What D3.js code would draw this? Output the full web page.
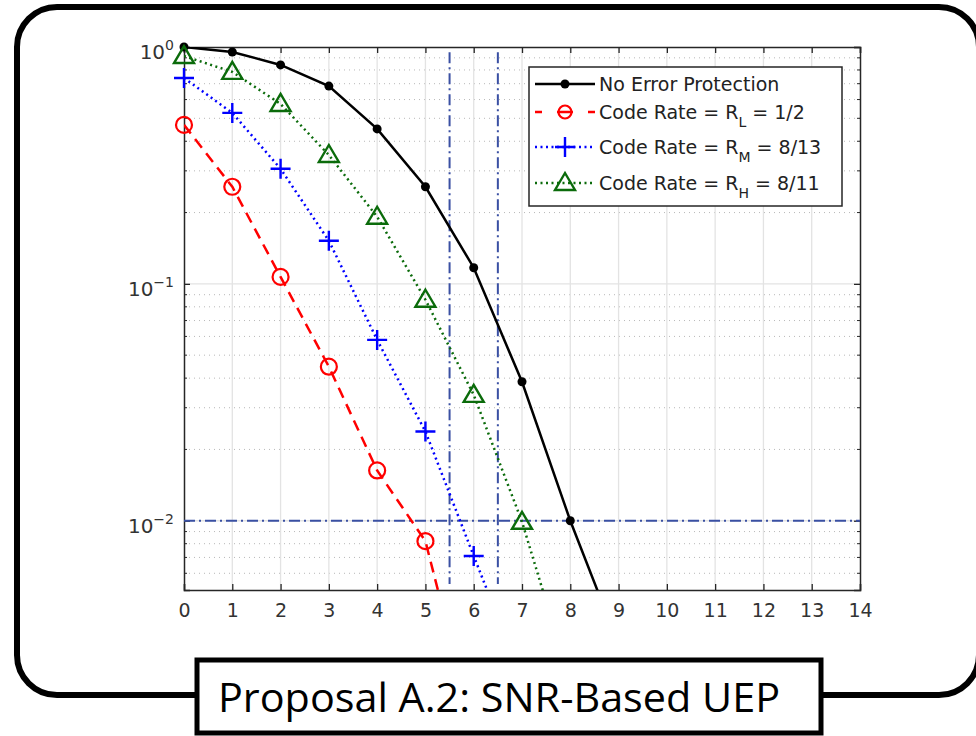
<!DOCTYPE html>
<html>
<head>
<meta charset="utf-8">
<script src="https://cdn.jsdelivr.net/npm/d3@7"></script>
<style>
  html, body { margin: 0; padding: 0; background: #fff; }
  svg { display: block; }
</style>
</head>
<body>
<svg id="chart" width="976" height="736"></svg>
<script>
// data
const snrTicks = [0, 1, 2, 3, 4, 5, 6, 7, 8, 9, 10, 11, 12, 13, 14];
const berTicks = [1, 0.1, 0.01];
const berTickExp = ["0", "\u22121", "\u22122"];

const snrNone = [0, 1, 2, 3, 4, 5, 6, 7, 8, 9];
const berNone = [1.0, 0.953, 0.84, 0.684, 0.451, 0.257, 0.117, 0.0386, 0.01, 0.003];

const snrLow = [0, 1, 2, 3, 4, 5, 6];
const berLow = [0.469, 0.257, 0.107, 0.0447, 0.0163, 0.0082, 0.0013];

const snrMid = [0, 1, 2, 3, 4, 5, 6, 7];
const berMid = [0.74, 0.527, 0.306, 0.152, 0.058, 0.0238, 0.0071, 0.00215];

const snrHigh = [0, 1, 2, 3, 4, 5, 6, 7, 8];
const berHigh = [0.916, 0.785, 0.575, 0.35, 0.192, 0.0857, 0.034, 0.0099, 0.0021];

const refSnr = [5.5, 6.5];
const refBer = 0.01;
const refBerSpan = [0.95, 0.0054];

const legendNames = [
    ["No Error Protection", "", ""],
    ["Code Rate = R", "L", " = 1/2"],
    ["Code Rate = R", "M", " = 8/13"],
    ["Code Rate = R", "H", " = 8/11"]
];

const titleText = "Proposal A.2: SNR-Based UEP";

const svg = d3.select("#chart");
const font = "'DejaVu Sans', sans-serif";

// outer rounded frame
svg.append("rect")
    .attr("x", 17).attr("y", 7)
    .attr("width", 962).attr("height", 688)
    .attr("rx", 40).attr("ry", 40)
    .attr("fill", "none")
    .attr("stroke", "#000")
    .attr("stroke-width", 6);

const plotLeft = 184, plotRight = 860, plotTop = 47, plotBottom = 590;

const x = d3.scaleLinear().domain([0, 14]).range([plotLeft, plotRight]);
const y = d3.scaleLog().domain([0.0051, 1]).range([plotBottom, plotTop]);

svg.append("defs").append("clipPath").attr("id", "plotClip")
    .append("rect")
    .attr("x", plotLeft).attr("y", plotTop)
    .attr("width", plotRight - plotLeft).attr("height", plotBottom - plotTop);

// minor ticks for log axis
const minorVals = [];
[0.001, 0.01, 0.1].forEach(d => {
    for (let k = 2; k <= 9; k++) {
        const v = d * k;
        if (v >= y.domain()[0] && v < 1) minorVals.push(v);
    }
});

const grid = svg.append("g");

grid.selectAll(".minor")
    .data(minorVals)
    .join("line")
    .attr("x1", plotLeft).attr("x2", plotRight)
    .attr("y1", d => y(d)).attr("y2", d => y(d))
    .attr("stroke", "#b8b8b8")
    .attr("stroke-width", 1)
    .attr("stroke-dasharray", "1,4");

grid.selectAll(".vgrid")
    .data(snrTicks.slice(1, -1))
    .join("line")
    .attr("x1", d => x(d)).attr("x2", d => x(d))
    .attr("y1", plotTop).attr("y2", plotBottom)
    .attr("stroke", "#e3e3e3")
    .attr("stroke-width", 1.3);

grid.selectAll(".hgrid")
    .data(berTicks.slice(1))
    .join("line")
    .attr("x1", plotLeft).attr("x2", plotRight)
    .attr("y1", d => y(d)).attr("y2", d => y(d))
    .attr("stroke", "#e3e3e3")
    .attr("stroke-width", 1.3);

// axes
const axisColor = "#262626";
const xAxisB = d3.axisBottom(x).tickValues(snrTicks).tickSize(-6).tickPadding(14).tickFormat(d3.format("d"));
const xAxisT = d3.axisTop(x).tickValues(snrTicks).tickSize(-6).tickFormat("");
const yAxisL = d3.axisLeft(y).tickValues(berTicks).tickSize(-6).tickFormat("");
const yAxisR = d3.axisRight(y).tickValues(berTicks).tickSize(-6).tickFormat("");

function styleAxis(g) {
    g.select(".domain").attr("stroke", axisColor).attr("stroke-width", 1.5);
    g.selectAll(".tick line").attr("stroke", axisColor).attr("stroke-width", 1.3);
    g.selectAll("text").attr("font-family", font).attr("font-size", 19).attr("fill", "#333");
}

svg.append("g").attr("transform", `translate(0,${plotBottom})`).call(xAxisB).call(styleAxis);
svg.append("g").attr("transform", `translate(0,${plotTop})`).call(xAxisT).call(styleAxis);
svg.append("g").attr("transform", `translate(${plotLeft},0)`).call(yAxisL).call(styleAxis);
svg.append("g").attr("transform", `translate(${plotRight},0)`).call(yAxisR).call(styleAxis);

// minor ticks on y axes
svg.append("g").selectAll("line")
    .data(minorVals)
    .join("line")
    .attr("x1", plotLeft).attr("x2", plotLeft + 3)
    .attr("y1", d => y(d)).attr("y2", d => y(d))
    .attr("stroke", axisColor).attr("stroke-width", 1);
svg.append("g").selectAll("line")
    .data(minorVals)
    .join("line")
    .attr("x1", plotRight).attr("x2", plotRight - 3)
    .attr("y1", d => y(d)).attr("y2", d => y(d))
    .attr("stroke", axisColor).attr("stroke-width", 1);

// y tick labels 10^n
const yLab = svg.append("g").selectAll("text")
    .data(berTicks)
    .join("text")
    .attr("x", 174)
    .attr("y", d => y(d) + 12)
    .attr("text-anchor", "end")
    .attr("font-family", font)
    .attr("fill", "#333");
yLab.append("tspan").attr("font-size", 20).text("10");
yLab.append("tspan").attr("font-size", 14).attr("dy", -9).text((d, i) => berTickExp[i]);

// reference dash-dot lines
const refColor = "#3a50a3";
const refDash = "11,4,2,4";
svg.append("g").selectAll("line")
    .data(refSnr)
    .join("line")
    .attr("x1", d => x(d)).attr("x2", d => x(d))
    .attr("y1", y(refBerSpan[0])).attr("y2", y(refBerSpan[1]))
    .attr("stroke", refColor)
    .attr("stroke-width", 2)
    .attr("stroke-dasharray", refDash);
svg.append("line")
    .attr("x1", plotLeft).attr("x2", plotRight)
    .attr("y1", y(refBer)).attr("y2", y(refBer))
    .attr("stroke", refColor)
    .attr("stroke-width", 2)
    .attr("stroke-dasharray", refDash);

// series
const series = [
    { xs: snrNone, ys: berNone, color: "#000", dash: null, legDash: null, width: 2.5, marker: "dot" },
    { xs: snrLow, ys: berLow, color: "#ff0000", dash: "11,7", legDash: "7,15,16,15,7", width: 2.5, marker: "circle" },
    { xs: snrMid, ys: berMid, color: "#0000ff", dash: "2,3.5", legDash: "2,3.5", width: 2.5, marker: "plus" },
    { xs: snrHigh, ys: berHigh, color: "#0b6b0b", dash: "2,3.5", legDash: "2,3.5", width: 2.5, marker: "tri" }
];

const line = d3.line().x(d => x(d[0])).y(d => y(d[1]));

function drawMarker(g, kind, color, r) {
    if (kind === "dot") {
        g.append("circle").attr("r", 4.5).attr("fill", color);
    } else if (kind === "circle") {
        g.append("circle").attr("r", r || 8).attr("fill", "none")
            .attr("stroke", color).attr("stroke-width", 2.2);
    } else if (kind === "plus") {
        g.append("path").attr("d", "M-10,0H10M0,-10V10")
            .attr("stroke", color).attr("stroke-width", 2.4);
    } else if (kind === "tri") {
        g.append("path").attr("d", "M0,-10L10,7L-10,7Z")
            .attr("fill", "none").attr("stroke", color).attr("stroke-width", 2.4)
            .attr("stroke-linejoin", "miter");
    }
}

const plot = svg.append("g");
series.forEach(s => {
    const pts = s.xs.map((v, i) => [v, s.ys[i]]);
    plot.append("path")
        .attr("clip-path", "url(#plotClip)")
        .attr("d", line(pts))
        .attr("fill", "none")
        .attr("stroke", s.color)
        .attr("stroke-width", s.width)
        .attr("stroke-dasharray", s.dash);
    pts.filter(p => p[1] >= y.domain()[0]).forEach(p => {
        const g = plot.append("g").attr("transform", `translate(${x(p[0])},${y(p[1])})`);
        drawMarker(g, s.marker, s.color);
    });
});

// legend
const legend = svg.append("g");
legend.append("rect")
    .attr("x", 529).attr("y", 67)
    .attr("width", 313).attr("height", 139)
    .attr("fill", "#fff")
    .attr("stroke", axisColor)
    .attr("stroke-width", 1.5);

const rowY = [84, 112, 147, 183];
series.forEach((s, i) => {
    const ry = rowY[i];
    legend.append("line")
        .attr("x1", 535).attr("x2", 595)
        .attr("y1", ry).attr("y2", ry)
        .attr("stroke", s.color)
        .attr("stroke-width", s.width)
        .attr("stroke-dasharray", s.legDash);
    const g = legend.append("g").attr("transform", `translate(565,${ry})`);
    drawMarker(g, s.marker, s.color, 6.5);
    const t = legend.append("text")
        .attr("x", 599).attr("y", rowY[i] + 7)
        .attr("font-family", font)
        .attr("font-size", 19)
        .attr("fill", "#222");
    t.append("tspan").text(legendNames[i][0]);
    if (legendNames[i][1]) {
        t.append("tspan").attr("font-size", 14).attr("dy", 8).text(legendNames[i][1]);
        t.append("tspan").attr("dy", -8).text(legendNames[i][2]);
    }
});

// title box
svg.append("rect")
    .attr("x", 197).attr("y", 660)
    .attr("width", 624).attr("height", 73)
    .attr("fill", "#fff")
    .attr("stroke", "#000")
    .attr("stroke-width", 5);
svg.append("text")
    .attr("x", 218).attr("y", 712)
    .attr("font-family", "'Open Sans', 'Noto Sans', sans-serif")
    .attr("font-size", 40)
    .attr("textLength", 562)
    .attr("lengthAdjust", "spacingAndGlyphs")
    .attr("fill", "#000")
    .text(titleText);
</script>
</body>
</html>
